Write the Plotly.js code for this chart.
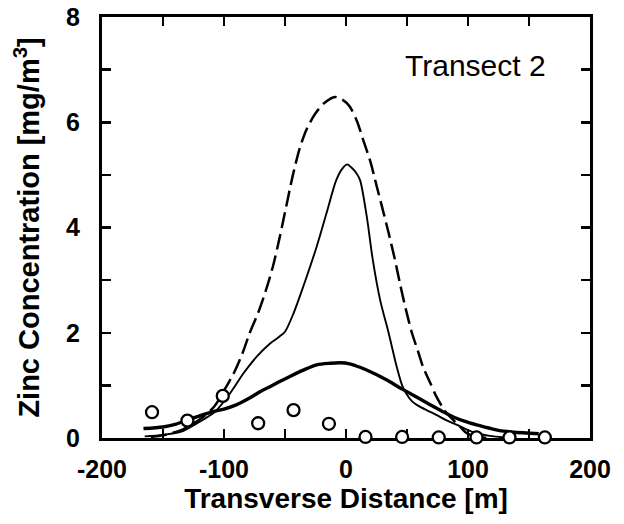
<!DOCTYPE html>
<html>
<head>
<meta charset="utf-8">
<script src="https://cdn.plot.ly/plotly-3.0.1.min.js"></script>
<style>html,body{margin:0;padding:0;background:#fff;}#chart{width:624px;height:524px;}</style>
</head>
<body>
<div id="chart"></div>
<script>
// Observed data (circles)
const obsX = [-159, -130, -101, -72, -43, -14, 16, 46, 76, 107, 134, 163];
const obsY = [0.49, 0.33, 0.80, 0.28, 0.53, 0.27, 0.02, 0.02, 0.01, 0.01, 0.01, 0.01];

// Dashed model curve
const dashX = [-160, -150, -135, -120, -108, -100, -92, -85, -79, -72, -66, -60, -54, -49, -44, -38, -32, -25, -18, -9, -3, 3, 9, 14, 20, 25, 30, 35, 40, 44, 49, 54, 59, 63, 69, 74, 81, 88, 94, 99, 106, 115];
const dashY = [0.02, 0.05, 0.15, 0.35, 0.6, 0.9, 1.23, 1.6, 1.99, 2.38, 2.78, 3.25, 3.85, 4.4, 4.95, 5.5, 5.88, 6.17, 6.36, 6.48, 6.43, 6.30, 6.02, 5.67, 5.25, 4.8, 4.35, 3.89, 3.4, 2.96, 2.45, 2.0, 1.65, 1.36, 1.05, 0.79, 0.52, 0.34, 0.2, 0.09, 0.03, 0.0];

// Thin solid model curve
const thinX = [-165, -150, -135, -122, -110, -106, -95, -84, -73, -62, -55, -50, -43, -35, -24, -16, -8, -3, 1, 4, 8, 11.5, 17, 22, 28, 35, 41.5, 46, 50, 54, 58, 66, 74, 82, 91, 100, 107, 118, 130];
const thinY = [0.03, 0.06, 0.12, 0.28, 0.45, 0.53, 0.85, 1.23, 1.55, 1.80, 1.92, 2.02, 2.37, 2.88, 3.64, 4.27, 4.90, 5.12, 5.2, 5.15, 5.05, 4.90, 4.21, 3.38, 2.62, 1.99, 1.36, 1.0, 0.82, 0.7, 0.63, 0.53, 0.44, 0.34, 0.25, 0.15, 0.09, 0.04, 0.01];

// Thick solid model curve
const thickX = [-166, -150, -140, -131, -120, -109, -100, -90, -79, -68, -57, -46, -35, -24, -13, -5, 3, 12, 20, 28, 36, 43, 50, 60, 69, 78, 88, 97, 107, 117, 126, 138, 151, 158];
const thickY = [0.18, 0.21, 0.26, 0.33, 0.42, 0.50, 0.55, 0.63, 0.76, 0.91, 1.04, 1.17, 1.29, 1.39, 1.42, 1.43, 1.41, 1.34, 1.26, 1.17, 1.07, 0.97, 0.88, 0.75, 0.63, 0.52, 0.40, 0.32, 0.25, 0.19, 0.14, 0.11, 0.09, 0.08];

const xTickVals = [-200, -100, 0, 100, 200];
const xTickText = ['-200', '-100', '0', '100', '200'];
const yTickVals = [0, 2, 4, 6, 8];
const yTickText = ['0', '2', '4', '6', '8'];

const FONT = 'Liberation Sans, Arial, Helvetica, sans-serif';

const traces = [
  {x: thickX, y: thickY, mode: 'lines', line: {color: '#000', width: 3.4, shape: 'spline', smoothing: 0.8}, cliponaxis: false},
  {x: thinX, y: thinY, mode: 'lines', line: {color: '#000', width: 1.9, shape: 'spline', smoothing: 0.8}, cliponaxis: false},
  {x: dashX, y: dashY, mode: 'lines', line: {color: '#000', width: 2.5, dash: '16px,6px', shape: 'spline', smoothing: 0.8}, cliponaxis: false},
  {x: obsX, y: obsY, mode: 'markers', marker: {symbol: 'circle', size: 12, color: '#fff', line: {color: '#000', width: 2.3}}, cliponaxis: false}
];

const axisCommon = {
  showline: true, linecolor: '#000', linewidth: 3, mirror: 'ticks',
  ticks: 'inside', ticklen: 9, tickwidth: 2.5, tickcolor: '#000',
  showgrid: false, zeroline: false, layer: 'below traces',
  tickfont: {family: FONT, size: 25, color: '#000', weight: 'bold'}
};

const layout = {
  width: 624, height: 524,
  margin: {l: 102, r: 34, t: 17, b: 86},
  paper_bgcolor: '#fff', plot_bgcolor: '#fff',
  showlegend: false,
  xaxis: Object.assign({}, axisCommon, {
    range: [-200, 200], tickmode: 'array', tickvals: xTickVals, ticktext: xTickText,
    minor: {tickmode: 'array', tickvals: [-150, -50, 50, 150], ticks: 'inside', ticklen: 9, tickwidth: 2.5, tickcolor: '#000', showgrid: false},
    ticklabelstandoff: 7,
    title: {text: 'Transverse Distance [m]', font: {family: FONT, size: 28, color: '#000', weight: 'bold'}, standoff: 5}
  }),
  yaxis: Object.assign({}, axisCommon, {
    range: [0, 8], tickmode: 'array', tickvals: yTickVals, ticktext: yTickText,
    minor: {tickmode: 'array', tickvals: [1, 3, 5, 7], ticks: 'inside', ticklen: 9, tickwidth: 2.5, tickcolor: '#000', showgrid: false},
    ticklabelstandoff: 14,
    title: {text: 'Zinc Concentration [mg/m<sup>3</sup>]', font: {family: FONT, size: 29, color: '#000', weight: 'bold'}, standoff: 18}
  }),
  annotations: [{
    x: 106, y: 7.07, xref: 'x', yref: 'y', text: 'Transect 2', showarrow: false,
    xanchor: 'center', yanchor: 'middle',
    font: {family: FONT, size: 30, color: '#000'}
  }]
};

Plotly.newPlot('chart', traces, layout, {displayModeBar: false, staticPlot: true});
</script>
</body>
</html>
